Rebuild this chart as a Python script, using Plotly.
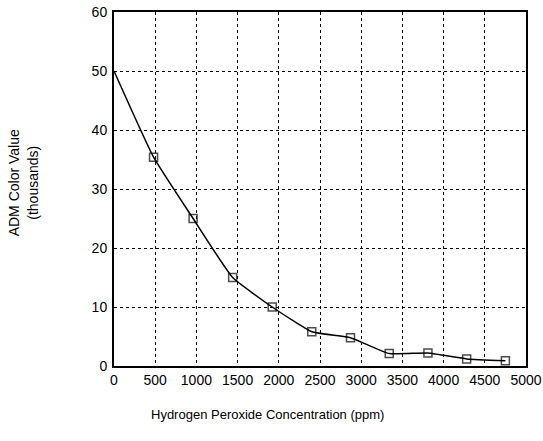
import plotly.graph_objects as go

conc_ppm = [0, 480, 960, 1440, 1920, 2400, 2870, 3340, 3810, 4280, 4750]
adm_thousands = [50, 35.4, 25, 15, 10, 5.8, 4.8, 2.1, 2.2, 1.2, 0.9]
marker_sizes = [0] + [8] * (len(conc_ppm) - 1)

x_ticks = list(range(0, 5001, 500))
y_ticks = list(range(0, 61, 10))

FONT = "Liberation Sans, Arial, sans-serif"

fig = go.Figure()
fig.add_trace(go.Scatter(
    x=conc_ppm, y=adm_thousands,
    mode="lines+markers",
    line=dict(color="black", width=1.5, shape="spline", smoothing=0.4),
    marker=dict(symbol="square-open", size=marker_sizes, color="black",
                line=dict(width=1.5, color="black")),
    showlegend=False,
))

axis_common = dict(
    showgrid=True, gridcolor="black", griddash="dot", gridwidth=1,
    showline=True, linecolor="black", linewidth=2, mirror=True,
    zeroline=False, ticks="", automargin=False, ticklabeloverflow="allow",
    tickfont=dict(family=FONT, size=14, color="black"),
)

fig.update_layout(
    width=543, height=441,
    margin=dict(l=114, r=17, t=12, b=75),
    paper_bgcolor="white", plot_bgcolor="white",
    xaxis=dict(range=[0, 5000], tickvals=x_ticks, **axis_common),
    yaxis=dict(range=[0, 60], tickvals=y_ticks, ticklabelstandoff=2, **axis_common),
    annotations=[
        dict(text="Hydrogen Peroxide Concentration (ppm)", xref="paper", yref="paper",
             x=0.372, y=-0.138, xanchor="center", yanchor="middle", showarrow=False,
             font=dict(family=FONT, size=13, color="black")),
        dict(text="ADM Color Value<br>(thousands)", xref="paper", yref="paper",
             x=-0.22, y=0.517, xanchor="center", yanchor="middle", showarrow=False,
             textangle=-90,
             font=dict(family=FONT, size=14, color="black")),
    ],
)

fig.write_html("out.html")
